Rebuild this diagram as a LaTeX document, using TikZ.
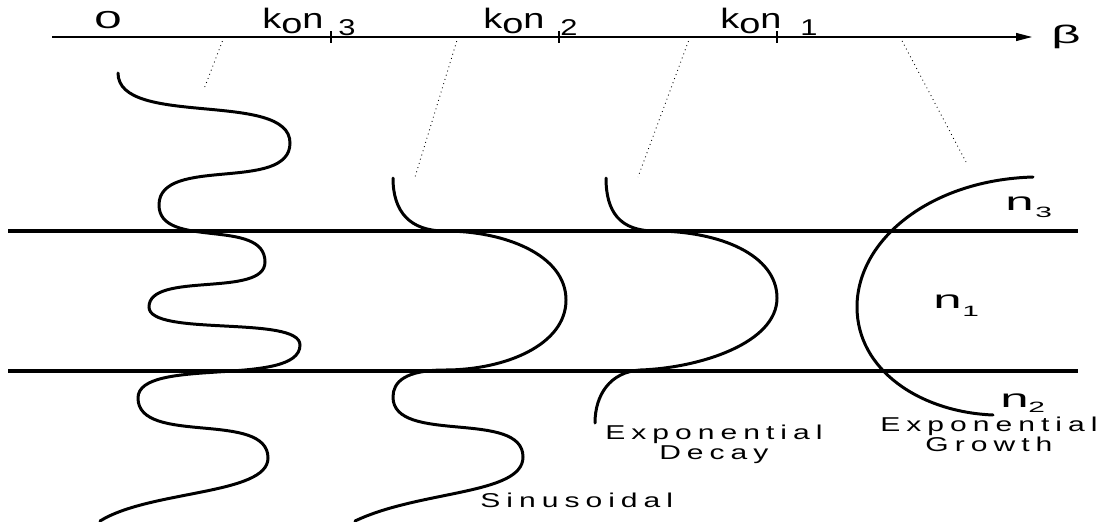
\documentclass[tikz,border=0pt]{standalone}
\usepackage{fontspec}
\setmainfont{Liberation Sans}
\newfontfamily\axisfont[FakeStretch=1.35]{Liberation Sans}
\newfontfamily\layerfont[FakeStretch=2]{Liberation Sans}
\newfontfamily\notefont[FakeStretch=1.5,LetterSpace=30]{Liberation Sans}
\usetikzlibrary{arrows.meta}
\newcommand{\toplbl}{\axisfont\fontsize{16}{18}\selectfont}
\newcommand{\topsub}{\axisfont\fontsize{13}{15}\selectfont}
\newcommand{\layerlbl}{\layerfont\fontsize{14.5}{16}\selectfont}
\newcommand{\layersub}{\layerfont\fontsize{8.5}{10}\selectfont}
\newcommand{\notelbl}{\notefont\fontsize{11.4}{11.3}\selectfont}
\begin{document}
\begin{tikzpicture}[x=0.02cm, y=-0.02cm,
    wave/.style={line width=1.7pt, line cap=round},
    layer/.style={line width=1.8pt},
    guide/.style={dotted, line width=0.5pt},
    lbl/.style={inner sep=0pt, anchor=base west}]
\useasboundingbox (0,0) rectangle (1105,521);
    % beta axis
    \coordinate (axstart) at (52,37);
    \coordinate (axend) at (1032,37);
    \draw[line width=0.6pt, -{Triangle[length=9pt,width=4.5pt]}] (axstart) -- (axend);
    \node[inner sep=0pt, anchor=west, font=\layerfont\fontsize{14.5}{16}\selectfont] (beta) at (1051,37) {β};
    \foreach \t in {331,559,777} {
        \draw[line width=0.6pt] (\t,31) -- (\t,43);
    }
    \node[lbl, font=\layerfont\fontsize{14}{16}\selectfont] (zero) at (94,28) {0};
    \node[lbl, font=\toplbl] (kn3) at (262,28) {k\raisebox{-0.12cm}{o}n};
    \node[lbl, font=\topsub] (kn3s) at (338,35) {3};
    \node[lbl, font=\toplbl] (kn2) at (483,28) {k\raisebox{-0.12cm}{o}n};
    \node[lbl, font=\topsub] (kn2s) at (560,35) {2};
    \node[lbl, font=\toplbl] (kn1) at (720,28) {k\raisebox{-0.12cm}{o}n};
    \node[lbl, font=\topsub] (kn1s) at (800,35) {1};

    % dotted guides from the axis to each field
    \foreach \i/\xa/\xb/\yb in {1/224/204/89, 2/458/415/177, 3/690/638/177, 4/900/966/162} {
        \coordinate (top\i) at (\xa,37);
        \coordinate (tip\i) at (\xb,\yb);
        \draw[guide] (top\i) -- (tip\i);
    }

    % guide layers
    \draw[layer] (8,231) -- (1078,231);
    \draw[layer] (8,371) -- (1078,371);

    % sinusoidal everywhere
    \draw[wave] (118,73)
        .. controls (118,128) and (290,90) .. (290,143)
        .. controls (290,193) and (159,155) .. (159,205)
        .. controls (159,250) and (265,217) .. (265,262)
        .. controls (265,298) and (149,271) .. (149,307)
        .. controls (149,337) and (300,315) .. (300,345)
        .. controls (300,388) and (138,356) .. (138,398)
        .. controls (138,446) and (268,410) .. (268,458)
        .. controls (268,495) and (150,490) .. (100,521);
    % sinusoidal outside, one half wave inside
    \draw[wave] (393,178) .. controls (393,212) and (410,231) .. (445,231)
        .. controls (505,231) and (566,255) .. (566,300)
        .. controls (566,345) and (505,370) .. (445,370)
        .. controls (405,370) and (393,382) .. (393,397)
        .. controls (393,445) and (523,409) .. (523,457)
        .. controls (523,495) and (420,490) .. (355,521);
    % guided mode
    \draw[wave] (606,178) .. controls (606,212) and (620,231) .. (655,231)
        .. controls (720,231) and (777,255) .. (777,298)
        .. controls (777,343) and (700,368) .. (640,370)
        .. controls (610,372) and (595,395) .. (595,423);
    % growing field
    \draw[wave] (1033,177) .. controls (930,180) and (857,240) .. (857,307)
        .. controls (857,370) and (920,412) .. (993,415);

    % indices
    \node[lbl, font=\layerlbl] (n3) at (1005,210) {n};
    \node[lbl, font=\layersub] (n3s) at (1035,217) {3};
    \node[lbl, font=\layerlbl] (n1) at (933,308) {n};
    \node[lbl, font=\layersub] (n1s) at (962,316) {1};
    \node[lbl, font=\layerlbl] (n2) at (1000,407) {n};
    \node[lbl, font=\layersub] (n2s) at (1028,412) {2};

    % field types
    \node[lbl, font=\notelbl] (sinus) at (480,507) {Sinusoidal};
    \node[inner sep=0pt, anchor=north west, align=center, font=\notelbl] (decay) at (605,425) {Exponential\\Decay};
    \node[inner sep=0pt, anchor=north west, align=center, font=\notelbl] (growth) at (880,417) {Exponential\\Growth};
\end{tikzpicture}
\end{document}
